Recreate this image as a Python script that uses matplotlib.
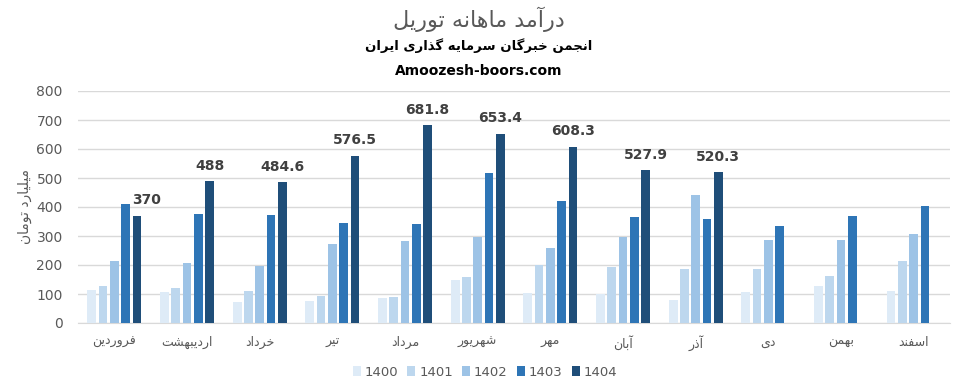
import matplotlib
matplotlib.use("Agg")
import matplotlib.pyplot as plt
import numpy as np
from matplotlib.patches import Patch


''' DATA '''
months = ["فروردین", "اردیبهشت", "خرداد", "تیر", "مرداد", "شهریور",
          "مهر", "آبان", "آذر", "دی", "بهمن", "اسفند"]
years = ["1400", "1401", "1402", "1403", "1404"]

v1400 = [114, 107, 72, 76, 86, 148, 103, 101, 79, 107, 128, 110]
v1401 = [128, 121, 110, 93, 90, 159, 201, 193, 186, 186, 162, 214]
v1402 = [214, 207, 197, 272, 283, 297, 259, 297, 441, 286, 286, 307]
v1403 = [410, 376, 372, 345, 341, 517, 421, 366, 359, 334, 369, 403]
v1404 = [370, 488, 484.6, 576.5, 681.8, 653.4, 608.3, 527.9, 520.3, None, None, None]
v1404_labels = ["370", "488", "484.6", "576.5", "681.8", "653.4", "608.3", "527.9", "520.3"]

title = "درآمد ماهانه توریل"
subtitle = "انجمن خبرگان سرمایه گذاری ایران"
site = "Amoozesh-boors.com"
ylabel = "میلیارد تومان"

colors = ["#DEEBF7", "#BDD7EE", "#9DC3E6", "#2E75B6", "#1F4E79"]


''' PERSIAN SHAPING (no bidi in matplotlib) '''
# letter: (isolated, final, initial, medial) ; 2-tuple = joins only to the right
FORMS = {
    "ا": ("\uFE8D", "\uFE8E"), "آ": ("\uFE81", "\uFE82"),
    "د": ("\uFEA9", "\uFEAA"), "ذ": ("\uFEAB", "\uFEAC"),
    "ر": ("\uFEAD", "\uFEAE"), "ز": ("\uFEAF", "\uFEB0"),
    "و": ("\uFEED", "\uFEEE"),
    "ب": ("\uFE8F", "\uFE90", "\uFE91", "\uFE92"),
    "ت": ("\uFE95", "\uFE96", "\uFE97", "\uFE98"),
    "ج": ("\uFE9D", "\uFE9E", "\uFE9F", "\uFEA0"),
    "خ": ("\uFEA5", "\uFEA6", "\uFEA7", "\uFEA8"),
    "س": ("\uFEB1", "\uFEB2", "\uFEB3", "\uFEB4"),
    "ش": ("\uFEB5", "\uFEB6", "\uFEB7", "\uFEB8"),
    "ف": ("\uFED1", "\uFED2", "\uFED3", "\uFED4"),
    "ل": ("\uFEDD", "\uFEDE", "\uFEDF", "\uFEE0"),
    "م": ("\uFEE1", "\uFEE2", "\uFEE3", "\uFEE4"),
    "ن": ("\uFEE5", "\uFEE6", "\uFEE7", "\uFEE8"),
    "ه": ("\uFEE9", "\uFEEA", "\uFEEB", "\uFEEC"),
    "ی": ("\uFBFC", "\uFBFD", "\uFBFE", "\uFBFF"),
    "گ": ("\uFB92", "\uFB93", "\uFB94", "\uFB95"),
}


def fa(text):
    out = []
    for i, ch in enumerate(text):
        if ch not in FORMS:
            out.append(ch)
            continue
        prev = text[i - 1] if i > 0 else " "
        nxt = text[i + 1] if i < len(text) - 1 else " "
        join_prev = prev in FORMS and len(FORMS[prev]) == 4
        join_next = len(FORMS[ch]) == 4 and nxt in FORMS
        f = FORMS[ch]
        if join_prev and join_next:
            out.append(f[3])
        elif join_prev:
            out.append(f[1])
        elif join_next:
            out.append(f[2])
        else:
            out.append(f[0])
    return "".join(out)[::-1]


FA_FONT = ["DejaVu Sans"]
GRAY = "#595959"

''' PLOT '''
fig = plt.figure(figsize=(9.58, 3.91), dpi=100)
ax = fig.add_axes([78 / 958, 1 - 323 / 391, 872 / 958, 232 / 391])

series = [v1400, v1401, v1402, v1403, v1404]
x = np.arange(len(months))
step = 0.155
width = 0.12
for k, (vals, c) in enumerate(zip(series, colors)):
    xs = [xi + (k - 2) * step for xi, v in zip(x, vals) if v is not None]
    hs = [v for v in vals if v is not None]
    bars = ax.bar(xs, hs, width=width, color=c, zorder=3)
    if k == 4:
        for j, (b, lab) in enumerate(zip(bars, v1404_labels)):
            dx = 0.13 if j == 0 else 0
            ax.annotate(lab, (b.get_x() + b.get_width() / 2 + dx, b.get_height()),
                        xytext=(0, 6), textcoords="offset points",
                        ha="center", va="bottom", fontsize=10,
                        fontweight="bold", color="#404040")

ax.set_xlim(-0.5, len(months) - 0.5)
ax.set_ylim(0, 800)
ax.set_yticks(range(0, 801, 100))
ax.yaxis.grid(True, color="#D9D9D9", linewidth=1, zorder=0)
ax.tick_params(axis="both", length=0, colors=GRAY, labelsize=10)
ax.tick_params(axis="y", pad=11)
ax.tick_params(axis="x", pad=9)
ax.set_xticks(x)
ax.set_xticklabels([fa(m) for m in months], family=FA_FONT, fontsize=9, color=GRAY)
for s in ["top", "right", "left"]:
    ax.spines[s].set_visible(False)
ax.spines["bottom"].set_color("#D9D9D9")

fig.text(25 / 958, 1 - 207 / 391, fa(ylabel), rotation=90, ha="center", va="center",
         family=FA_FONT, fontsize=10, color=GRAY)

fig.text(0.5, 1 - 19 / 391, fa(title), ha="center", va="center",
         family=FA_FONT, fontsize=16, color=GRAY)
fig.text(0.5, 1 - 46 / 391, fa(subtitle), ha="center", va="center",
         family=FA_FONT, fontsize=9.5, fontweight="bold", color="black")
fig.text(0.5, 1 - 71 / 391, site, ha="center", va="center",
         fontsize=10, fontweight="bold", color="black")

handles = [Patch(facecolor=c, edgecolor="none") for c in colors]
fig.legend(handles, years, loc="center", bbox_to_anchor=(485 / 958, 1 - 372 / 391),
           ncol=5, frameon=False, fontsize=9.5, labelcolor=GRAY,
           handlelength=0.6, handleheight=0.8, handletextpad=0.3, columnspacing=0.7)

fig.savefig("out.png", dpi=100)
